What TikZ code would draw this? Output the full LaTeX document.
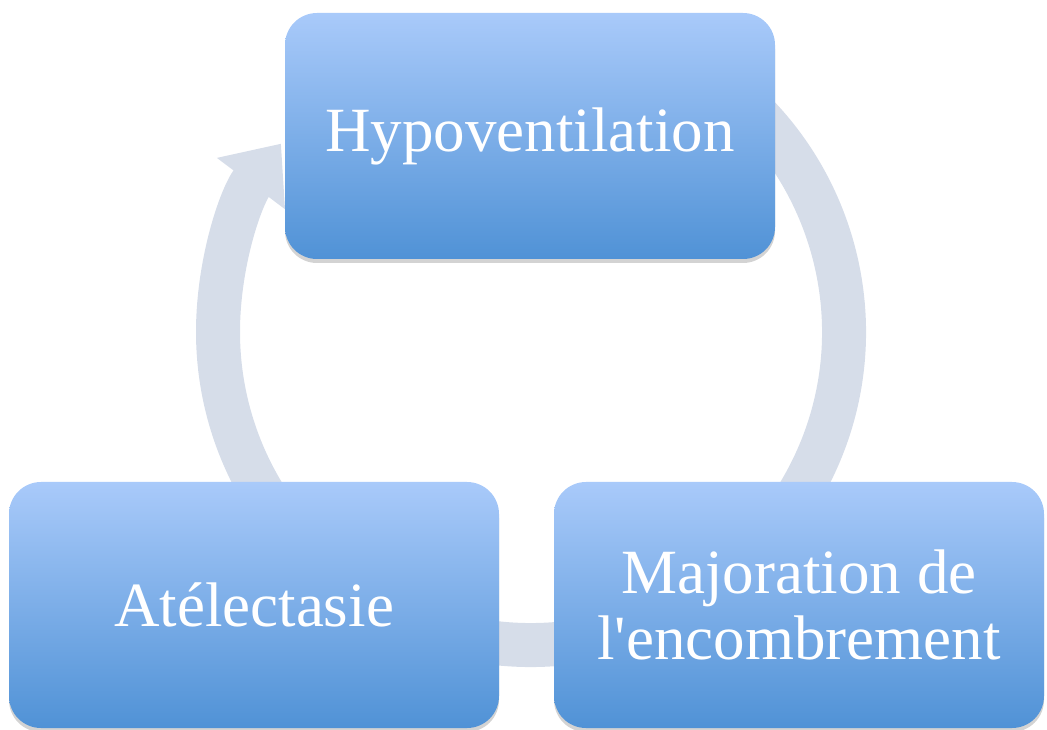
\documentclass[tikz,border=0pt]{standalone}
\usepackage{fontspec}
\setmainfont{Liberation Serif}
\usetikzlibrary{arrows.meta,shadows}

\definecolor{boxtop}{RGB}{169,202,250}
\definecolor{boxbottom}{RGB}{80,146,214}
\definecolor{ringgray}{RGB}{214,221,233}

\begin{document}
\begin{tikzpicture}[
  x=1pt, y=1pt,
  stagenode/.style={rectangle, rounded corners=32pt, minimum width=490pt, minimum height=246pt,
    top color=boxtop, bottom color=boxbottom, text=white, align=center,
    font=\fontsize{63}{66}\selectfont,
    drop shadow={opacity=0.35, shadow xshift=0pt, shadow yshift=-4pt}},
  ring/.style={line width=44pt, draw=ringgray, -{Triangle[width=82pt, length=50pt]}},
]
\useasboundingbox (0,0) rectangle (1047,729);

\coordinate (c) at (531,397);

% cycle arrow behind the boxes
\draw[ring] (c) ++(60:313) arc[start angle=60, end angle=-217, radius=313];

\node[stagenode] (hypo) at (530,593) {Hypoventilation};
\node[stagenode] (major) at (799,124) {Majoration de\\l\textquotesingle encombrement};
\node[stagenode] (atel) at (254,124) {Atélectasie};

\end{tikzpicture}
\end{document}
